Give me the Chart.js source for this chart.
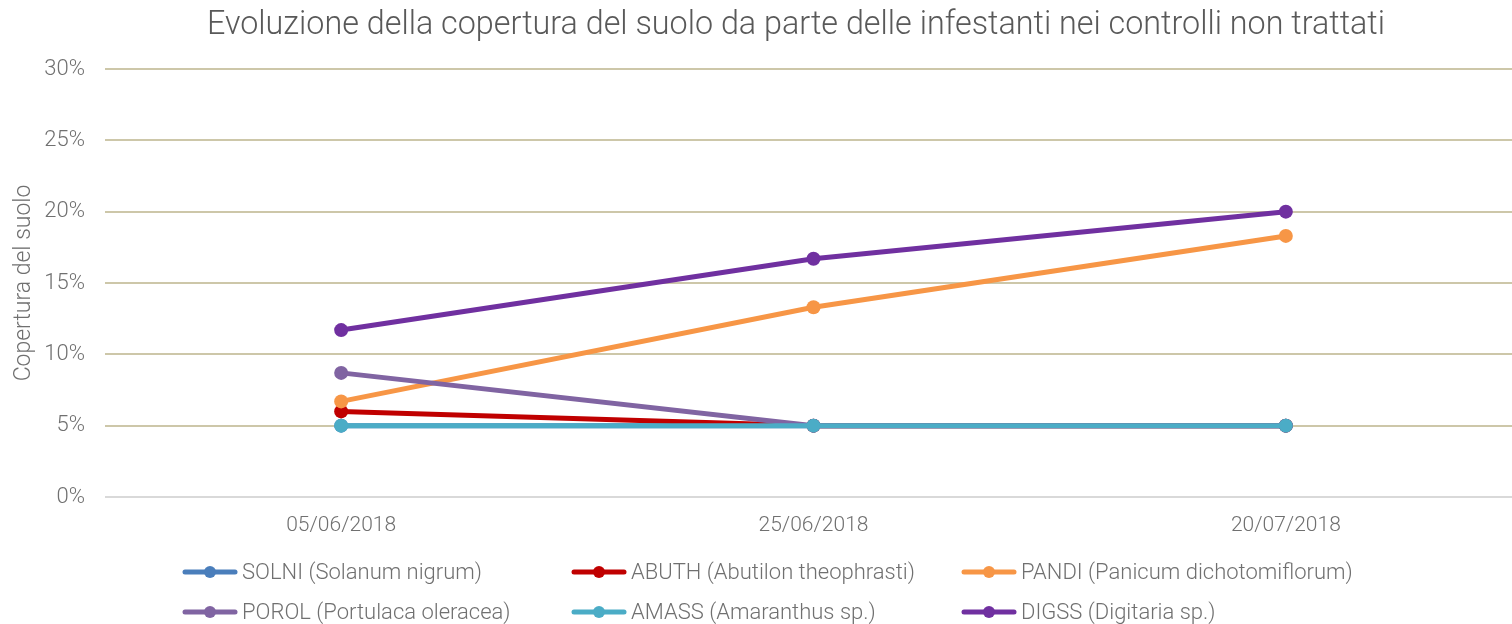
<!DOCTYPE html>
<html>
<head>
<meta charset="utf-8">
<script src="https://cdn.jsdelivr.net/npm/chart.js@4.4.1/dist/chart.umd.min.js"></script>
<style>
  html, body { margin: 0; padding: 0; background: #fff; overflow: hidden; }
  /* plot area runs a little past the right edge of the window, like the original */
  #wrap { width: 1522px; height: 624px; }
</style>
</head>
<body>
<div id="wrap"><canvas id="chart"></canvas></div>
<script>
const dates = ["05/06/2018", "25/06/2018", "20/07/2018"];
const yTicks = [0, 5, 10, 15, 20, 25, 30];

const seriesNames = [
  "SOLNI (Solanum nigrum)",
  "ABUTH (Abutilon theophrasti)",
  "PANDI (Panicum dichotomiflorum)",
  "POROL (Portulaca oleracea)",
  "AMASS (Amaranthus sp.)",
  "DIGSS (Digitaria sp.)",
];
const seriesColors = ["#4a7ebb", "#c00000", "#f79646", "#8064a2", "#4bacc6", "#7030a0"];

const solni = [5, 5, 5];
const abuth = [6, 5, 5];
const pandi = [6.7, 13.3, 18.3];
const porol = [8.7, 5, 5];
const amass = [5, 5, 5];
const digss = [11.7, 16.7, 20];

const seriesValues = [solni, abuth, pandi, porol, amass, digss];

const chartTitle = "Evoluzione della copertura del suolo da parte delle infestanti nei controlli non trattati";

const FONT = "Roboto";
const TITLE_COLOR = "#595959";
const TEXT = "#707070";

/* title is drawn by hand: it sits a bit right of the window centre */
const titlePlugin = {
  id: "titlePlugin",
  afterDraw(chart) {
    const ctx = chart.ctx;
    ctx.save();
    ctx.font = "300 32.3px " + FONT;
    ctx.fillStyle = TITLE_COLOR;
    ctx.textAlign = "center";
    ctx.textBaseline = "alphabetic";
    ctx.fillText(chartTitle, 796, 34);
    ctx.restore();
  },
};

/* legend in 3 columns, 2 rows, drawn on the canvas */
const gridLegend = {
  id: "gridLegend",
  afterDraw(chart) {
    const ctx = chart.ctx;
    const colX = [183, 572, 962];
    const rowY = [572, 612];
    ctx.save();
    ctx.font = "300 22px " + FONT;
    ctx.textBaseline = "middle";
    chart.data.datasets.forEach((ds, i) => {
      const x = colX[i % 3];
      const y = rowY[Math.floor(i / 3)];
      ctx.strokeStyle = ds.borderColor;
      ctx.lineWidth = 5;
      ctx.lineCap = "round";
      ctx.beginPath();
      ctx.moveTo(x + 2, y);
      ctx.lineTo(x + 52, y);
      ctx.stroke();
      ctx.fillStyle = ds.borderColor;
      ctx.beginPath();
      ctx.arc(x + 27, y, 6, 0, Math.PI * 2);
      ctx.fill();
      ctx.fillStyle = TEXT;
      ctx.fillText(ds.label, x + 59, y + 1);
    });
    ctx.restore();
  },
};

const datasets = seriesNames.map((name, i) => ({
  label: name,
  data: seriesValues[i],
  borderColor: seriesColors[i],
  backgroundColor: seriesColors[i],
  borderWidth: 5,
  pointRadius: 7,
  pointHoverRadius: 7,
  pointBorderWidth: 0,
  tension: 0,
  clip: false,
  order: seriesNames.length - i,
}));

new Chart(document.getElementById("chart"), {
  type: "line",
  data: { labels: dates, datasets },
  plugins: [titlePlugin, gridLegend],
  options: {
    responsive: true,
    maintainAspectRatio: false,
    animation: false,
    layout: { autoPadding: false, padding: { left: 0, right: 0, top: 69, bottom: 87 } },
    plugins: {
      legend: { display: false },
      tooltip: { enabled: false },
      title: { display: false },
    },
    scales: {
      x: {
        offset: true,
        grid: { display: false, drawTicks: false },
        border: { display: false },
        ticks: { color: TEXT, font: { family: FONT, size: 21, weight: "300" }, padding: 16 },
        afterFit(scale) { scale.height = 40; },
      },
      y: {
        min: 0,
        max: 30,
        afterBuildTicks(scale) { scale.ticks = yTicks.map((v) => ({ value: v })); },
        grid: {
          color: (c) => (c.index === 0 ? "#d9d9d9" : "#cdc7a9"),
          lineWidth: 2,
          drawTicks: false,
        },
        border: { display: false },
        ticks: {
          color: TEXT,
          font: { family: FONT, size: 22, weight: "300" },
          padding: 20,
          callback: (v) => v + "%",
        },
        title: {
          display: true,
          text: "Copertura del suolo",
          color: TEXT,
          font: { family: FONT, size: 23, weight: "300" },
          padding: { top: 10, bottom: 0 },
        },
        afterFit(scale) { scale.width = 105; },
      },
    },
  },
});
</script>
</body>
</html>
